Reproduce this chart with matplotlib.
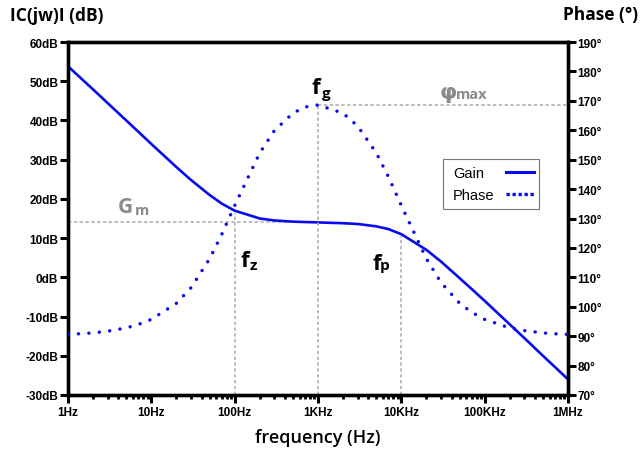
import matplotlib
matplotlib.use("Agg")
import matplotlib.pyplot as plt
from matplotlib.lines import Line2D
from matplotlib.patches import Rectangle
from matplotlib.ticker import FixedLocator, LogLocator, NullFormatter

# ---- data ----
freq_hz = [1, 2, 3, 5, 7, 10, 20, 30, 50, 70, 100, 200, 300, 500, 700,
           1e3, 2e3, 3e3, 5e3, 7e3, 1e4, 2e4, 3e4, 5e4, 7e4, 1e5,
           2e5, 3e5, 5e5, 7e5, 1e6]
gain_db = [53.8, 47.9, 44.4, 40.0, 37.1, 34.0, 28.1, 24.8, 21.0, 18.8, 17.0,
           15.0, 14.5, 14.2, 14.1, 14.0, 13.8, 13.6, 13.0, 12.3, 11.0,
           7.0, 4.0, -0.2, -3.0, -6.0, -12.0, -15.5, -20.0, -22.9, -26.0]
phase_deg = [90.6, 91.1, 91.7, 92.8, 94.0, 95.7, 101.2, 106.5, 116.3, 124.6,
             134.4, 152.3, 159.9, 165.8, 167.9, 168.6, 165.8, 161.4, 152.3,
             144.2, 134.4, 116.3, 108.2, 101.2, 98.1, 95.7, 92.8, 91.9,
             91.1, 90.8, 90.6]

x_ticks = [1, 10, 100, 1e3, 1e4, 1e5, 1e6]
x_labels = ["1Hz", "10Hz", "100Hz", "1KHz", "10KHz", "100KHz", "1MHz"]
db_ticks = [-30, -20, -10, 0, 10, 20, 30, 40, 50, 60]
db_labels = [f"{v}dB" for v in db_ticks]
ph_ticks = list(range(70, 191, 10))
ph_labels = [f"{v}°" for v in ph_ticks]
legend_labels = ["Gain", "Phase"]

f_z, f_g, f_p = 100, 1e3, 1e4
gm_db = 14.0
phi_max = 168.6

BLUE = "#0a0aee"
GRAY = "#8a8a8a"
LGRAY = "#b0b0b0"
TICKFONT = dict(family="Liberation Sans", weight="bold", size=8.5)

W, H = 643, 452
fig = plt.figure(figsize=(6.43, 4.52), dpi=100)
ax = fig.add_axes([68/W, 1-396/H, 500/W, 353/H])
ax2 = ax.twinx()

ax.set_xscale("log")
ax.set_xlim(1, 1e6)
ax.set_ylim(-30, 60)
ax2.set_ylim(70, 190)

# reference lines
REF = dict(color=LGRAY, lw=1.2, ls=(0, (2, 1.5)), zorder=1)
ax.plot([1, f_g], [gm_db, gm_db], **REF)
ax.plot([f_z, f_z], [-30, 16.5], **REF)
ax2.plot([f_g, f_g], [70, phi_max], **REF)
ax2.plot([f_g, 1e6], [phi_max, phi_max], **REF)
ax.plot([f_p, f_p], [-30, 10.5], **REF)

# curves
lg, = ax.plot(freq_hz, gain_db, color=BLUE, lw=1.9, zorder=3, label="Gain")
lp, = ax2.plot(freq_hz, phase_deg, color=BLUE, lw=2.5, ls=(0, (0.01, 3.0)),
               dash_capstyle="round", zorder=3, label="Phase")

# ticks
ax.xaxis.set_major_locator(FixedLocator(x_ticks))
ax.set_xticklabels(x_labels, **TICKFONT)
ax.xaxis.set_minor_locator(LogLocator(base=10, subs=range(2, 10), numticks=20))
ax.xaxis.set_minor_formatter(NullFormatter())
ax.set_yticks(db_ticks)
ax.set_yticklabels(db_labels, **TICKFONT)
ax2.set_yticks(ph_ticks)
ax2.set_yticklabels(ph_labels, **TICKFONT)

ax.tick_params(axis="x", which="major", direction="out", length=6, width=2.2, pad=2)
ax.tick_params(axis="x", which="minor", direction="out", length=3, width=2.0)
ax.tick_params(axis="y", which="major", direction="out", length=6, width=2.2, pad=1)
ax2.tick_params(axis="y", which="major", direction="out", length=6, width=2.2, pad=1)
ax2.tick_params(axis="x", which="both", length=0)

for a in (ax, ax2):
    for s in a.spines.values():
        s.set_linewidth(2.4)
        s.set_color("black")

# annotations
TFONT = "Open Sans"
fig.text(316/W, 1-94/H, "f", family=TFONT, weight="bold", size=16, ha="center", va="baseline")
fig.text(326/W, 1-98/H, "g", family=TFONT, weight="bold", size=11, ha="center", va="baseline")
fig.text(245/W, 1-267/H, "f", family=TFONT, weight="bold", size=16, ha="center", va="baseline")
fig.text(253/W, 1-270/H, "z", family=TFONT, weight="bold", size=11, ha="center", va="baseline")
fig.text(377/W, 1-270/H, "f", family=TFONT, weight="bold", size=16, ha="center", va="baseline")
fig.text(385/W, 1-270/H, "p", family=TFONT, weight="bold", size=11, ha="center", va="baseline")
fig.text(125/W, 1-213/H, "G", family=TFONT, weight="bold", size=15, color=GRAY, ha="center", va="baseline")
fig.text(142/W, 1-215/H, "m", family=TFONT, weight="bold", size=10.5, color=GRAY, ha="center", va="baseline")
fig.text(448/W, 1-99/H, "φ", family="DejaVu Sans", weight="bold", size=16, color=GRAY, ha="center", va="baseline")
fig.text(472/W, 1-99/H, "max", family=TFONT, weight="bold", size=10.5, color=GRAY, ha="center", va="baseline")

# titles
fig.text(10/W, 1-16/H, "IC(jw)I (dB)", family=TFONT, weight="bold", size=12.5, ha="left", va="center")
fig.text(638/W, 1-15/H, "Phase (°)", family=TFONT, weight="bold", size=12.5, ha="right", va="center")
fig.text(318/W, 1-438/H, "frequency (Hz)", family=TFONT, weight="semibold", size=13, ha="center", va="center")

# legend (text left-aligned, sample on the right, as in the reference)
fig.add_artist(Rectangle((443/W, 1-210/H), 96/W, 50/H, transform=fig.transFigure,
                         facecolor="white", edgecolor="#777777", lw=0.8, zorder=5))
LFONT = dict(family="Liberation Sans", size=10.5)
fig.text(453/W, 1-178.5/H, legend_labels[0], va="baseline", ha="left", zorder=6, **LFONT)
fig.text(453/W, 1-200/H, legend_labels[1], va="baseline", ha="left", zorder=6, **LFONT)
fig.add_artist(Line2D([506/W, 534/W], [1-173/H, 1-173/H], transform=fig.transFigure,
                      color=BLUE, lw=2.2, zorder=6))
fig.add_artist(Line2D([506/W, 534/W], [1-195/H, 1-195/H], transform=fig.transFigure,
                      color=BLUE, lw=2.4, ls=(0, (1, 0.8)), zorder=6))

fig.savefig("out.png", dpi=100)
